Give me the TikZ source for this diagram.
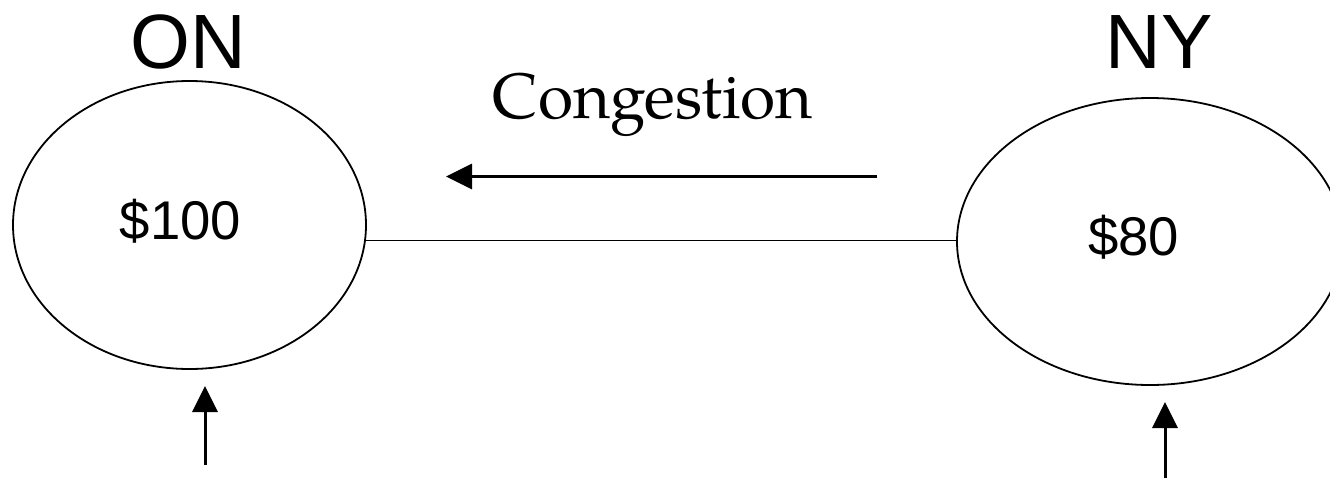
\documentclass[tikz,border=0pt]{standalone}
\usepackage{fontspec}
\setmainfont{Liberation Sans}
\newfontfamily\palfont{texgyrepagella-regular.otf}
\usetikzlibrary{shapes.geometric,arrows.meta}
\begin{document}
\begin{tikzpicture}[x=1pt,y=-1pt,
  region/.style={draw,ellipse,line width=1.8pt,inner sep=0pt},
  statelabel/.style={anchor=base,inner sep=0pt,font=\fontsize{77}{80}\selectfont},
  pricelabel/.style={anchor=base,inner sep=0pt,font=\fontsize{54.5}{60}\selectfont},
  flowlabel/.style={anchor=base,inner sep=0pt,font=\palfont\fontsize{64}{70}\selectfont},
  tie/.style={line width=1.8pt},
  bigarrow/.style={line width=3pt,-{Triangle[length=26pt,width=25pt]}}]
\useasboundingbox (0,0) rectangle (1330,477);
\clip (0,0) rectangle (1330,477);
\fill[white] (0,0) rectangle (1330,477);
\node[region,minimum width=353pt,minimum height=288pt] (on) at (189.5,225) {};
\node[region,minimum width=386pt,minimum height=287pt] (ny) at (1150,241.5) {};
\node[statelabel] (onlbl) at (188,68) {ON};
\node[statelabel] (nylbl) at (1159,68) {NY};
\node[pricelabel] (onprice) at (180.5,239) {\$100};
\node[pricelabel] (nyprice) at (1133.5,255) {\$80};
\node[flowlabel] (cong) at (653,118.5) {Congestion};
\draw[tie] (on.-5.2) -- (on.-5.2 -| ny.west);
\coordinate (cfrom) at (877,176.5);
\coordinate (cto) at (446,176.5);
\draw[bigarrow] (cfrom) -- (cto);
\coordinate (lfrom) at (205,465);
\coordinate (lto) at (205,386);
\draw[bigarrow] (lfrom) -- (lto);
\coordinate (rfrom) at (1165,480);
\coordinate (rto) at (1165,402);
\draw[bigarrow] (rfrom) -- (rto);
\end{tikzpicture}
\end{document}
